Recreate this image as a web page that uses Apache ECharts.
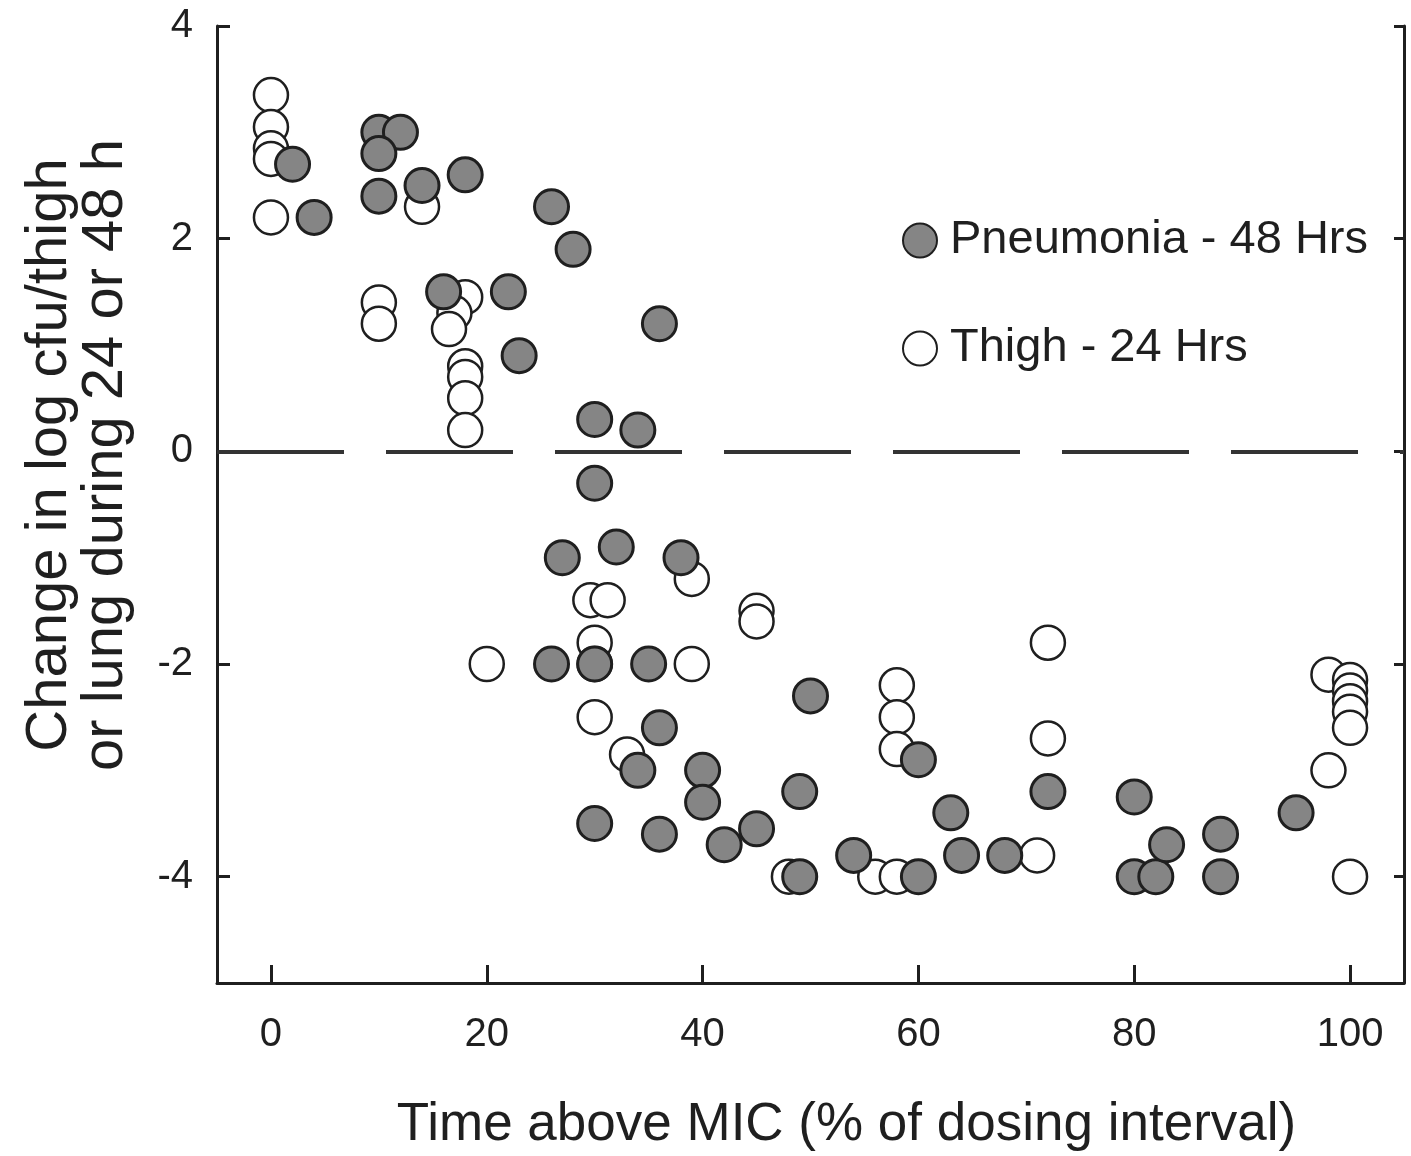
<!DOCTYPE html>
<html>
<head>
<meta charset="utf-8">
<script src="https://cdn.jsdelivr.net/npm/echarts@6/dist/echarts.min.js"></script>
<style>
html,body{margin:0;padding:0;background:#fff;}
#chart{width:1411px;height:1156px;}
</style>
</head>
<body>
<div id="chart"></div>
<script>
// Pneumonia - 48 Hrs (filled)
const pneumoniaX = [2, 4, 10, 12, 10, 10, 14, 18, 16, 22, 23, 26, 28, 36, 30, 34, 30, 27, 32, 38, 26, 30, 35, 36, 34, 30, 36, 40, 40, 42, 45, 50, 49, 49, 54, 60, 60, 63, 64, 68, 72, 80, 80, 82, 83, 88, 88, 95];
const pneumoniaY = [2.7, 2.2, 3.0, 3.0, 2.8, 2.4, 2.5, 2.6, 1.5, 1.5, 0.9, 2.3, 1.9, 1.2, 0.3, 0.2, -0.3, -1.0, -0.9, -1.0, -2.0, -2.0, -2.0, -2.6, -3.0, -3.5, -3.6, -3.0, -3.3, -3.7, -3.55, -2.3, -3.2, -4.0, -3.8, -2.9, -4.0, -3.4, -3.8, -3.8, -3.2, -3.25, -4.0, -4.0, -3.7, -3.6, -4.0, -3.4];
// Thigh - 24 Hrs (open)
const thighX = [0, 0, 0, 0, 0, 10, 10, 14, 18, 17, 16.5, 18, 18, 18, 18, 20, 29.6, 31.2, 30, 30, 30, 33, 39, 39, 45, 45, 48, 56, 58, 58, 58, 58, 72, 72, 71, 98, 100, 100, 100, 100, 100, 98, 100];
const thighY = [3.35, 3.05, 2.85, 2.75, 2.2, 1.4, 1.2, 2.3, 1.45, 1.3, 1.15, 0.8, 0.7, 0.5, 0.2, -2.0, -1.4, -1.4, -1.8, -2.5, -2.0, -2.85, -1.2, -2.0, -1.5, -1.6, -4.0, -4.0, -4.0, -2.2, -2.5, -2.8, -1.8, -2.7, -3.8, -2.1, -2.15, -2.25, -2.35, -2.45, -2.6, -3.0, -4.0];
const xTicks = [0, 20, 40, 60, 80, 100];
const yTicks = [-4, -2, 0, 2, 4];

const pneumoniaData = pneumoniaX.map((x, i) => [x, pneumoniaY[i]]);
const thighData = thighX.map((x, i) => [x, thighY[i]]);

const ink = '#1f1f1f';
const font = 'Liberation Sans, Arial, sans-serif';

const chart = echarts.init(document.getElementById('chart'), null, {renderer: 'canvas'});
chart.setOption({
  backgroundColor: '#fff',
  animation: false,
  grid: {left: 217, right: 7, top: 26, bottom: 173, containLabel: false, outerBoundsMode: 'none'},
  xAxis: {
    type: 'value', min: -5, max: 105,
    axisLine: {show: true, onZero: false, lineStyle: {color: ink, width: 3}},
    axisTick: {show: true, inside: true, length: 18, lineStyle: {color: ink, width: 3}, customValues: xTicks},
    axisLabel: {show: true, customValues: xTicks, color: ink, fontSize: 40, fontFamily: font, margin: 32},
    splitLine: {show: false},
    name: 'Time above MIC (% of dosing interval)',
    nameLocation: 'middle', nameGap: 116,
    nameTextStyle: {color: ink, fontSize: 53, fontFamily: font, padding: [0, 0, 0, 72]}
  },
  yAxis: [{
    type: 'value', min: -5, max: 4, position: 'left',
    axisLine: {show: true, onZero: false, lineStyle: {color: ink, width: 3}},
    axisTick: {show: true, inside: true, length: 13, lineStyle: {color: ink, width: 3}, customValues: yTicks},
    axisLabel: {show: true, customValues: yTicks, color: ink, fontSize: 40, fontFamily: font, margin: 24},
    splitLine: {show: false}
  }, {
    type: 'value', min: -5, max: 4, position: 'right',
    axisLine: {show: true, onZero: false, lineStyle: {color: ink, width: 3}},
    axisTick: {show: true, inside: true, length: 10, lineStyle: {color: ink, width: 3}, customValues: yTicks},
    axisLabel: {show: false},
    splitLine: {show: false}
  }],
  legend: {
    orient: 'vertical', left: 897, top: 212,
    data: ['Pneumonia - 48 Hrs', 'Thigh - 24 Hrs'],
    icon: 'circle', itemWidth: 34, itemHeight: 34, itemGap: 61,
    textStyle: {color: ink, fontSize: 47, fontFamily: font, lineHeight: 40, padding: [0, 0, 0, 8]}
  },
  graphic: [{
    type: 'text',
    x: 78, y: 455,
    rotation: Math.PI / 2,
    style: {
      text: 'Change in log cfu/thigh\nor lung during 24 or 48 h',
      fill: ink, font: '58px ' + font,
      textAlign: 'center', textVerticalAlign: 'middle', lineHeight: 56
    }
  }],
  series: [{
    name: 'Thigh - 24 Hrs', type: 'scatter', data: thighData,
    symbol: 'circle', symbolSize: 34,
    itemStyle: {color: '#ffffff', borderColor: ink, borderWidth: 2.5, opacity: 1},
    z: 3,
    markLine: {
      silent: true, symbol: 'none', label: {show: false},
      lineStyle: {color: '#333', width: 4, type: [127, 42]},
      data: [{yAxis: 0}],
      z: 1
    }
  }, {
    name: 'Pneumonia - 48 Hrs', type: 'scatter', data: pneumoniaData,
    symbol: 'circle', symbolSize: 34,
    itemStyle: {color: '#858585', borderColor: ink, borderWidth: 3, opacity: 1},
    z: 4
  }]
});
</script>
</body>
</html>
